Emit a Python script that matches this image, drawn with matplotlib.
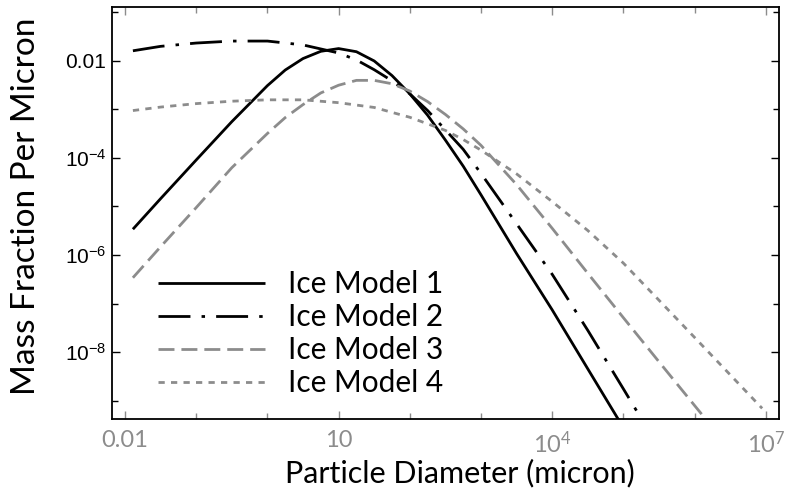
import matplotlib
matplotlib.use("Agg")
import matplotlib.pyplot as plt
from matplotlib.ticker import FixedLocator, NullFormatter

# ---- data ----
diam_m1 = [0.0129, 0.0316, 0.1, 0.316, 1.0, 1.78, 3.16, 5.62, 10.0, 17.8, 31.6, 56.2,
           100.0, 178.0, 316.0, 562.0, 1000.0, 3162.0, 1.0e4, 3.162e4, 1.0e5]
mass_m1 = [3.4e-6, 1.45e-5, 9.1e-5, 5.6e-4, 3.1e-3, 6.5e-3, 1.12e-2, 1.58e-2, 1.8e-2,
           1.55e-2, 1.0e-2, 5.0e-3, 2.1e-3, 7.6e-4, 2.34e-4, 6.8e-5, 1.74e-5, 1.07e-6,
           7.4e-8, 4.5e-9, 2.75e-10]

diam_m2 = [0.0129, 0.0316, 0.1, 0.316, 1.0, 3.16, 10.0, 17.8, 31.6, 56.2, 100.0, 178.0,
           316.0, 562.0, 1000.0, 3162.0, 1.0e4, 3.162e4, 1.0e5, 3.162e5]
mass_m2 = [1.62e-2, 2.0e-2, 2.34e-2, 2.57e-2, 2.57e-2, 2.14e-2, 1.46e-2, 1.05e-2, 6.6e-3,
           3.9e-3, 2.1e-3, 9.5e-4, 3.8e-4, 1.51e-4, 4.8e-5, 4.4e-6, 4.0e-7, 2.8e-8,
           1.74e-9, 1.05e-10]

diam_m3 = [0.0129, 0.0316, 0.1, 0.316, 1.0, 1.78, 3.16, 5.62, 10.0, 17.8, 31.6, 56.2,
           100.0, 178.0, 316.0, 562.0, 1000.0, 3162.0, 1.0e4, 3.162e4, 1.0e5, 3.162e5,
           1.0e6, 3.162e6]
mass_m3 = [3.4e-7, 1.48e-6, 9.5e-6, 6.3e-5, 3.2e-4, 6.8e-4, 1.26e-3, 2.19e-3, 3.16e-3,
           3.98e-3, 3.98e-3, 3.39e-3, 2.4e-3, 1.45e-3, 7.9e-4, 3.98e-4, 1.82e-4, 2.82e-5,
           3.55e-6, 4.2e-7, 5.1e-8, 6.3e-9, 7.9e-10, 1.0e-10]

diam_m4 = [0.0129, 0.0316, 0.1, 0.316, 1.0, 3.16, 10.0, 31.6, 100.0, 316.0, 562.0,
           1000.0, 3162.0, 1.0e4, 3.162e4, 1.0e5, 3.162e5, 1.0e6, 3.162e6, 8.9e6]
mass_m4 = [9.5e-4, 1.12e-3, 1.32e-3, 1.48e-3, 1.58e-3, 1.58e-3, 1.38e-3, 1.1e-3, 6.9e-4,
           3.7e-4, 2.4e-4, 1.45e-4, 4.7e-5, 1.26e-5, 3.2e-6, 6.8e-7, 1.17e-7, 2.0e-8,
           3.4e-9, 6.9e-10]

labels = ["Ice Model 1", "Ice Model 2", "Ice Model 3", "Ice Model 4"]
x_ticks = [0.01, 10, 1e4, 1e7]
x_tick_labels = ["0.01", "10", r"$\mathregular{10^{4}}$", r"$\mathregular{10^{7}}$"]
y_ticks = [1e-8, 1e-6, 1e-4, 1e-2]
y_tick_labels = [r"$\mathregular{10^{-8}}$", r"$\mathregular{10^{-6}}$",
                 r"$\mathregular{10^{-4}}$", "0.01"]

# ---- style ----
plt.rcParams["lines.scale_dashes"] = False
GRAY = "#8c8c8c"
label_font = ["Lato", "DejaVu Sans"]

fig = plt.figure(figsize=(7.86, 4.97), dpi=100)
ax = fig.add_axes([0.1425, 0.157, 0.991 - 0.1425, 0.986 - 0.157])

ax.plot(diam_m1, mass_m1, color="black", lw=2.0, solid_capstyle="butt",
        solid_joinstyle="round", label=labels[0])
ax.plot(diam_m2, mass_m2, color="black", lw=2.0, dashes=(23, 8, 2.5, 8),
        dash_capstyle="butt", label=labels[1])
ax.plot(diam_m3, mass_m3, color=GRAY, lw=2.0, dashes=(11.5, 5), dash_capstyle="butt",
        label=labels[2])
ax.plot(diam_m4, mass_m4, color=GRAY, lw=2.0, dashes=(4.5, 4.5), dash_capstyle="butt",
        label=labels[3])

ax.set_xscale("log")
ax.set_yscale("log")
ax.set_xlim(10 ** -2.183, 10 ** 7.185)
ax.set_ylim(10 ** -9.38, 10 ** -0.887)

ax.xaxis.set_major_locator(FixedLocator(x_ticks))
ax.set_xticklabels(x_tick_labels)
ax.xaxis.set_minor_locator(FixedLocator([0.1, 1, 100, 1000, 1e5, 1e6]))
ax.xaxis.set_minor_formatter(NullFormatter())
ax.yaxis.set_major_locator(FixedLocator(y_ticks))
ax.set_yticklabels(y_tick_labels)
ax.yaxis.set_minor_locator(FixedLocator([1e-9, 1e-7, 1e-5, 1e-3, 1e-1]))
ax.yaxis.set_minor_formatter(NullFormatter())

ax.tick_params(axis="both", which="both", direction="in", top=True, right=True)
ax.tick_params(axis="both", which="major", length=6, width=1.0)
ax.tick_params(axis="both", which="minor", length=4, width=1.0)
ax.tick_params(axis="x", which="both", color=GRAY, labelcolor=GRAY, pad=8,
               labelsize=17, labelfontfamily="Lato")
ax.tick_params(axis="y", which="both", color="black", labelcolor="black", pad=4,
               labelsize=15, labelfontfamily="Liberation Sans")

for sp in ax.spines.values():
    sp.set_linewidth(1.3)
    sp.set_color("black")

ax.set_xlabel("Particle Diameter (micron)", fontsize=22, family=label_font)
ax.set_ylabel("Mass Fraction Per Micron", fontsize=24, family=label_font)
ax.xaxis.set_label_coords(0.522, -0.096)
ax.yaxis.set_label_coords(-0.107, 0.517)

leg = ax.legend(loc="upper left", bbox_to_anchor=(158 / 786, 1 - 270 / 497),
                bbox_transform=fig.transFigure, frameon=False,
                prop={"family": label_font, "size": 21.5}, handlelength=3.58,
                handletextpad=0.77, labelspacing=0.17, borderpad=0, borderaxespad=0)

fig.savefig("out.png", dpi=100)
